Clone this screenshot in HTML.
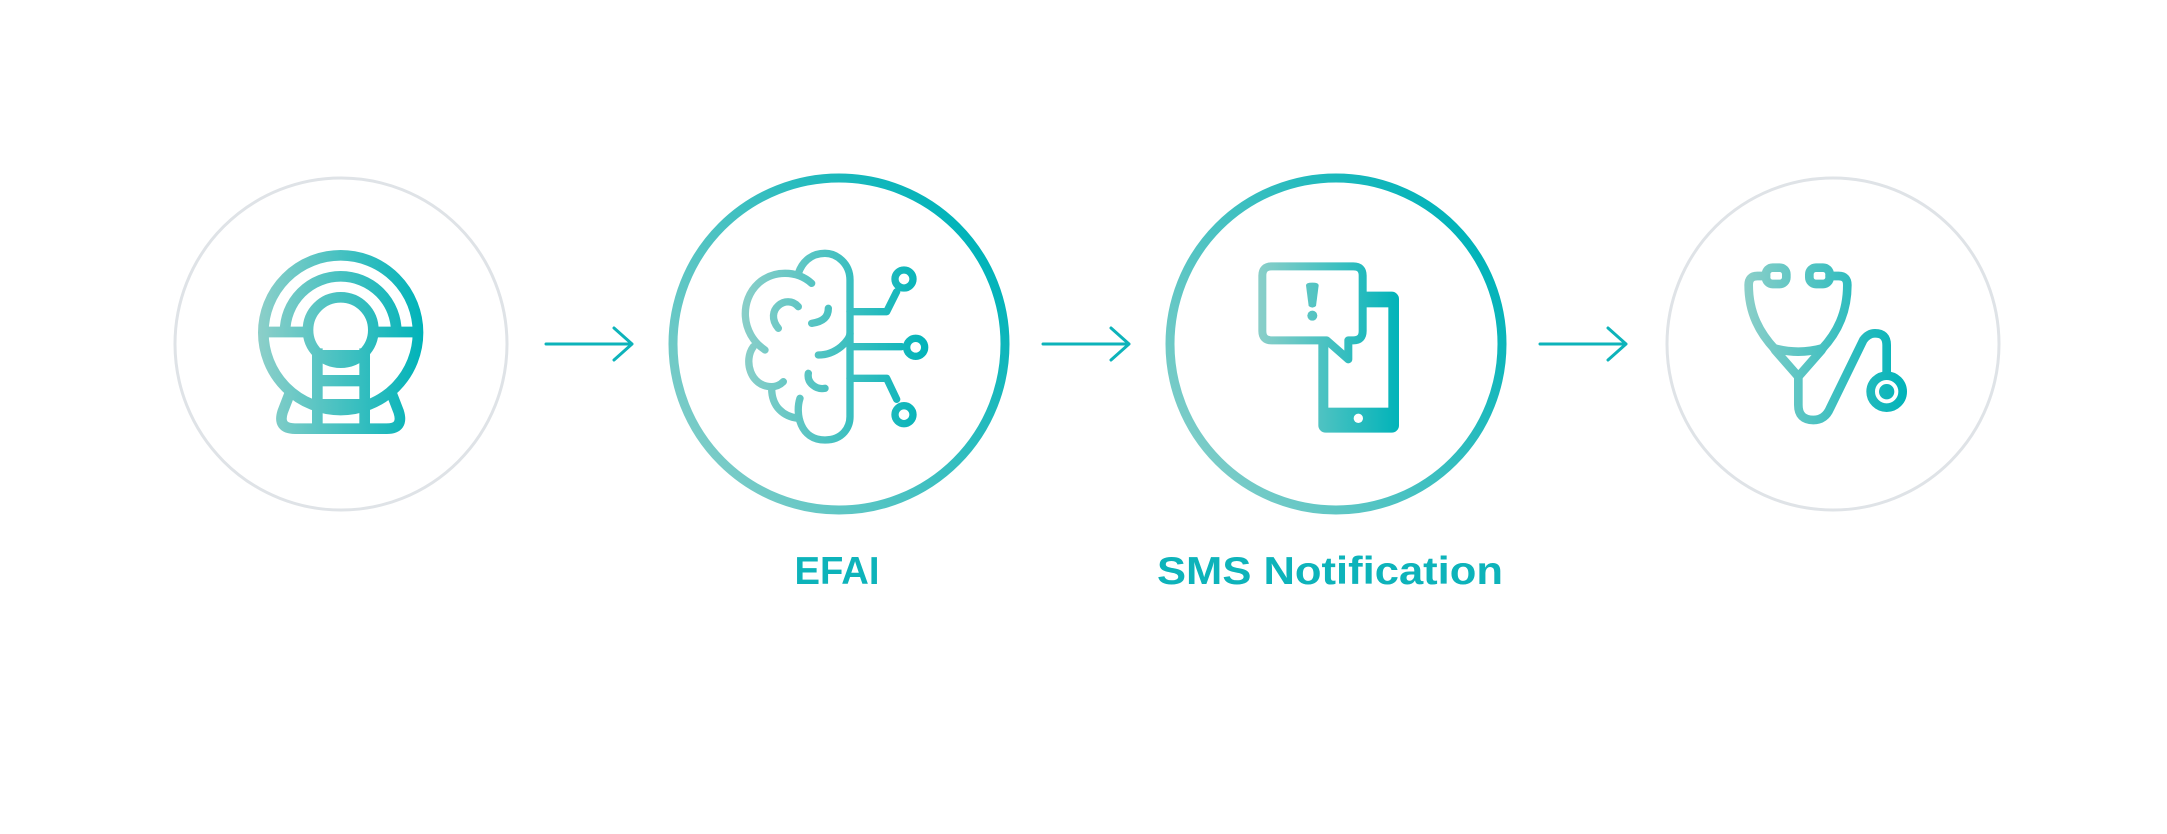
<!DOCTYPE html>
<html><head><meta charset="utf-8"><style>
html,body{margin:0;padding:0;background:#fff;}
svg{display:block;}
</style></head><body>
<svg width="2167" height="834" viewBox="0 0 2167 834" xmlns="http://www.w3.org/2000/svg">
<defs>
<linearGradient id="cg" x1="0" y1="1" x2="1" y2="0.3">
<stop offset="0" stop-color="#8fd0ca"/><stop offset="1" stop-color="#00b3b9"/>
</linearGradient>
<linearGradient id="g1" gradientUnits="userSpaceOnUse" x1="55" y1="0" x2="550" y2="0">
<stop offset="0" stop-color="#8ccfc9"/><stop offset="1" stop-color="#00b3b9"/></linearGradient>
<linearGradient id="g2" gradientUnits="userSpaceOnUse" x1="30" y1="0" x2="600" y2="0">
<stop offset="0" stop-color="#8ccfc9"/><stop offset="1" stop-color="#00b3b9"/></linearGradient>
<linearGradient id="g3" gradientUnits="userSpaceOnUse" x1="110" y1="0" x2="540" y2="0">
<stop offset="0" stop-color="#8ccfc9"/><stop offset="1" stop-color="#00b3b9"/></linearGradient>
<linearGradient id="g4" gradientUnits="userSpaceOnUse" x1="130" y1="0" x2="620" y2="0">
<stop offset="0" stop-color="#8ccfc9"/><stop offset="1" stop-color="#00b3b9"/></linearGradient>
</defs>

<!-- circles -->
<circle cx="341" cy="344" r="166" fill="none" stroke="#dfe3e7" stroke-width="3"/>
<circle cx="839" cy="344" r="166" fill="none" stroke="url(#cg)" stroke-width="9"/>
<circle cx="1336" cy="344" r="166" fill="none" stroke="url(#cg)" stroke-width="9"/>
<circle cx="1833" cy="344" r="166" fill="none" stroke="#dfe3e7" stroke-width="3"/>

<!-- arrows -->
<g fill="none" stroke="#0db3ba" stroke-width="3" stroke-linecap="round" stroke-linejoin="round">
<path d="M546 344 L632 344 M614 328 L632 344 L614 360"/>
<path d="M1043 344 L1129 344 M1111 328 L1129 344 L1111 360"/>
<path d="M1540 344 L1626 344 M1608 328 L1626 344 L1608 360"/>
</g>

<!-- MRI icon -->
<g transform="translate(240,230) scale(0.33333)">
<g fill="none" stroke="url(#g1)" stroke-width="32" stroke-linecap="butt">
<circle cx="302" cy="308" r="232"/>
<path d="M135 306 A167 167 0 0 1 469 306"/>
<circle cx="302" cy="300" r="98"/>
<path d="M70 306 L210 306 M394 306 L535 306"/>
<path d="M232 355 L232 612 M374 355 L374 612"/>
<path d="M150 488 L128 545 Q112 596 165 596 L440 596 Q492 596 476 545 L454 488" stroke-linejoin="round"/>
</g>
<g fill="url(#g1)">
<rect x="216" y="360" width="174" height="34"/>
<rect x="216" y="435" width="174" height="34"/>
<rect x="216" y="507" width="174" height="35"/>
</g>
</g>

<!-- Brain icon -->
<g transform="translate(730,240) scale(0.33333)" fill="none" stroke="url(#g2)" stroke-width="22" stroke-linecap="round" stroke-linejoin="round">
<path d="M245 130 C200 90 130 90 85 130 C30 180 30 280 105 330"/>
<path d="M70 320 C40 360 60 440 125 440 C140 440 150 435 160 425"/>
<path d="M125 445 C125 500 160 530 205 535"/>
<path d="M210 475 C195 520 210 600 285 600 C340 600 360 560 360 530 L360 120 C360 70 320 40 285 40 C240 40 215 70 205 100"/>
<path d="M145 265 C100 210 170 160 205 200"/>
<path d="M245 250 C280 245 295 230 295 205"/>
<path d="M265 345 C320 345 360 300 360 280"/>
<path d="M235 400 C230 430 260 450 285 445"/>
<path d="M360 215 L470 215 L500 155"/>
<path d="M360 320 L515 320"/>
<path d="M360 415 L470 415 L500 478"/>
<circle cx="522" cy="117" r="27"/>
<circle cx="557" cy="322" r="27"/>
<circle cx="522" cy="524" r="27"/>
</g>

<!-- Phone icon -->
<g transform="translate(1220,220) scale(0.33333)">
<rect x="295" y="215" width="242" height="423" rx="22" fill="url(#g3)"/>
<rect x="325" y="262" width="180" height="301" fill="#fff"/>
<circle cx="415" cy="595" r="14" fill="#fff"/>
<path d="M155 139 L400 139 Q428 139 428 167 L428 333 Q428 361 400 361 L385 361 L385 418 L320 361 L155 361 Q127 361 127 333 L127 167 Q127 139 155 139 Z" fill="#fff" stroke="url(#g3)" stroke-width="24" stroke-linejoin="round"/>
<path d="M258 196 Q258 188 277 188 Q296 188 296 196 L288 258 Q277 268 266 258 Z" fill="url(#g3)"/>
<circle cx="277" cy="287" r="15" fill="url(#g3)"/>
</g>

<!-- Stethoscope icon -->
<g transform="translate(1700,220) scale(0.33333)" fill="none" stroke="url(#g4)" stroke-width="26" stroke-linecap="round" stroke-linejoin="round">
<rect x="198" y="143" width="61" height="49" rx="20"/>
<rect x="328" y="143" width="61" height="49" rx="20"/>
<path d="M198 168 L172 168 Q146 168 146 195 C146 280 180 340 225 388"/>
<path d="M389 168 L416 168 Q442 168 442 195 C442 280 410 340 365 388"/>
<path d="M222 385 Q295 405 368 385"/>
<path d="M225 390 L295 470 L365 390"/>
<path d="M295 470 L295 555 Q295 600 340 600 Q375 600 390 565 L490 360 Q505 340 525 340 Q560 340 560 375 L560 465"/>
<circle cx="560" cy="515" r="48"/>
<circle cx="560" cy="515" r="10" fill="url(#g4)"/>
</g>

<!-- labels -->
<text x="837" y="584" text-anchor="middle" font-family="'Liberation Sans', sans-serif" font-weight="bold" font-size="39" fill="#0db3ba" textLength="85" lengthAdjust="spacingAndGlyphs">EFAI</text>
<text x="1330" y="584" text-anchor="middle" font-family="'Liberation Sans', sans-serif" font-weight="bold" font-size="39" fill="#0db3ba" textLength="346" lengthAdjust="spacingAndGlyphs">SMS Notification</text>
</svg>
</body></html>
